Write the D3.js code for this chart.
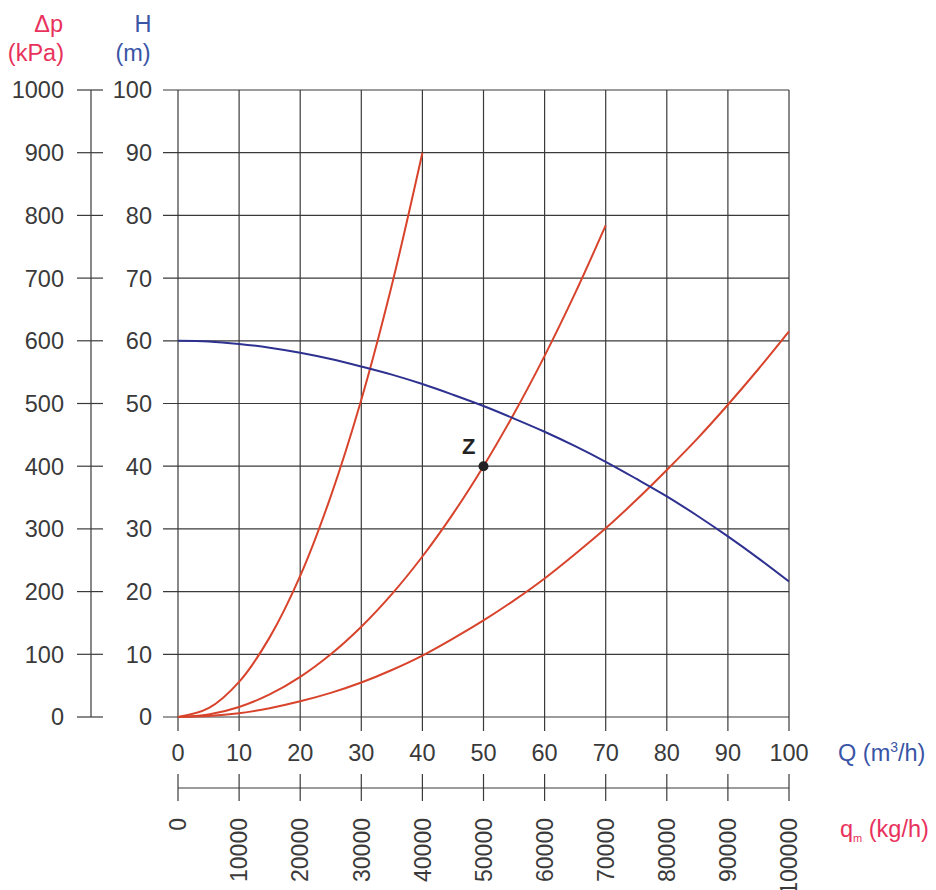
<!DOCTYPE html>
<html>
<head>
<meta charset="utf-8">
<script src="https://cdn.jsdelivr.net/npm/d3@7"></script>
<style>
  html, body { margin: 0; padding: 0; background: #fff; }
  svg { display: block; }
  text { font-family: "Liberation Sans", Arial, sans-serif; }
</style>
</head>
<body>
<svg id="chart" width="936" height="890"></svg>
<script>
// Flow rate Q (m3/h) sample positions
const flowQ = [0, 5, 10, 15, 20, 25, 30, 35, 40, 45, 50, 55, 60, 65, 70, 75, 80, 85, 90, 95, 100];

// Pump curve H (m)
const pumpH = [60, 59.9, 59.5, 58.9, 58.1, 57.1, 55.9, 54.6, 53.1, 51.4, 49.6, 47.6, 45.5, 43.2, 40.7, 38.0, 35.2, 32.1, 28.8, 25.3, 21.6];

// System curves H (m)
const system1H = [0, 1.4, 5.6, 12.7, 22.5, 35.2, 50.6, 68.9, 90];
const system2H = [0, 0.4, 1.6, 3.6, 6.4, 10.0, 14.4, 19.6, 25.6, 32.4, 40.0, 48.4, 57.6, 67.6, 78.4];
const system3H = [0, 0.15, 0.6, 1.4, 2.5, 3.85, 5.5, 7.5, 9.8, 12.5, 15.4, 18.6, 22.1, 26.0, 30.1, 34.6, 39.4, 44.4, 49.8, 55.5, 61.5];

// Operating point
const pointZ = { q: 50, h: 40, label: "Z" };

// Axis ticks
const hTicks = [0, 10, 20, 30, 40, 50, 60, 70, 80, 90, 100];
const dpTicks = [0, 100, 200, 300, 400, 500, 600, 700, 800, 900, 1000];
const qTicks = [0, 10, 20, 30, 40, 50, 60, 70, 80, 90, 100];
const qmTicks = [0, 10000, 20000, 30000, 40000, 50000, 60000, 70000, 80000, 90000, 100000];

const gridColor = "#3a3a3a";
const textColor = "#3a3a3a";
const redColor = "#d8432c";
const blueColor = "#2e3190";
const pinkColor = "#e8325c";
const titleBlue = "#3a55a6";

const svg = d3.select("#chart");

const x = d3.scaleLinear().domain([0, 100]).range([178, 789]);
const y = d3.scaleLinear().domain([0, 100]).range([717, 90]);
const yDp = d3.scaleLinear().domain([0, 1000]).range([717, 90]);
const xQm = d3.scaleLinear().domain([0, 100000]).range([178, 789]);

const fontSize = 23.5;

// Grid: horizontal lines (extended left as ticks)
svg.append("g").selectAll("line").data(hTicks).join("line")
  .attr("x1", x(0) - 15).attr("x2", x(100))
  .attr("y1", d => y(d)).attr("y2", d => y(d))
  .attr("stroke", gridColor).attr("stroke-width", 1.2);

// Grid: vertical lines (extended down as ticks)
svg.append("g").selectAll("line").data(qTicks).join("line")
  .attr("x1", d => x(d)).attr("x2", d => x(d))
  .attr("y1", y(100)).attr("y2", y(0) + 14)
  .attr("stroke", gridColor).attr("stroke-width", 1.2);

// H tick labels
svg.append("g").selectAll("text").data(hTicks).join("text")
  .attr("x", 152).attr("y", d => y(d))
  .attr("dy", "0.36em").attr("text-anchor", "end")
  .attr("font-size", fontSize).attr("fill", textColor)
  .text(d => d);

// Δp axis
const dpAxisX = 91;
svg.append("line")
  .attr("x1", dpAxisX).attr("x2", dpAxisX)
  .attr("y1", yDp(1000)).attr("y2", yDp(0))
  .attr("stroke", gridColor).attr("stroke-width", 1.2);
svg.append("g").selectAll("line").data(dpTicks).join("line")
  .attr("x1", dpAxisX - 14).attr("x2", dpAxisX + 12)
  .attr("y1", d => yDp(d)).attr("y2", d => yDp(d))
  .attr("stroke", gridColor).attr("stroke-width", 1.2);
svg.append("g").selectAll("text").data(dpTicks).join("text")
  .attr("x", 64).attr("y", d => yDp(d))
  .attr("dy", "0.36em").attr("text-anchor", "end")
  .attr("font-size", fontSize).attr("fill", textColor)
  .text(d => d);

// Axis titles (left)
svg.append("text").attr("x", 63).attr("y", 32).attr("text-anchor", "end")
  .attr("font-size", fontSize).attr("fill", pinkColor).text("Δp");
svg.append("text").attr("x", 64).attr("y", 61).attr("text-anchor", "end")
  .attr("font-size", fontSize).attr("fill", pinkColor).text("(kPa)");
svg.append("text").attr("x", 143).attr("y", 32).attr("text-anchor", "middle")
  .attr("font-size", fontSize).attr("fill", titleBlue).text("H");
svg.append("text").attr("x", 133).attr("y", 61).attr("text-anchor", "middle")
  .attr("font-size", fontSize).attr("fill", titleBlue).text("(m)");

// Q tick labels
svg.append("g").selectAll("text").data(qTicks).join("text")
  .attr("x", d => x(d)).attr("y", 761)
  .attr("text-anchor", "middle")
  .attr("font-size", fontSize).attr("fill", textColor)
  .text(d => d);

// Q title
const qTitle = svg.append("text").attr("x", 838).attr("y", 761)
  .attr("font-size", fontSize).attr("fill", titleBlue);
qTitle.append("tspan").text("Q (m");
qTitle.append("tspan").attr("font-size", 14).attr("dy", -9).text("3");
qTitle.append("tspan").attr("dy", 9).text("/h)");

// q_m axis
const qmAxisY = 788;
svg.append("line")
  .attr("x1", xQm(0)).attr("x2", xQm(100000))
  .attr("y1", qmAxisY).attr("y2", qmAxisY)
  .attr("stroke", gridColor).attr("stroke-width", 1.2);
svg.append("g").selectAll("line").data(qmTicks).join("line")
  .attr("x1", d => xQm(d)).attr("x2", d => xQm(d))
  .attr("y1", qmAxisY - 14).attr("y2", qmAxisY + 13)
  .attr("stroke", gridColor).attr("stroke-width", 1.2);
svg.append("g").selectAll("text").data(qmTicks).join("text")
  .attr("transform", d => `translate(${xQm(d)},818) rotate(-90)`)
  .attr("dy", "0.36em").attr("text-anchor", "end")
  .attr("font-size", 23).attr("fill", textColor)
  .text(d => d);

// q_m title
const qmTitle = svg.append("text").attr("x", 840).attr("y", 837)
  .attr("font-size", fontSize).attr("fill", pinkColor);
qmTitle.append("tspan").text("q");
qmTitle.append("tspan").attr("font-size", 11).attr("dy", 5).text("m");
qmTitle.append("tspan").attr("dy", -5).text(" (kg/h)");

// Curves
const line = d3.line()
  .x(d => x(d[0])).y(d => y(d[1]))
  .curve(d3.curveCatmullRom.alpha(0.5));

const toPts = (vals) => vals.map((v, i) => [flowQ[i], v]);

[system1H, system2H, system3H].forEach(vals => {
  svg.append("path").datum(toPts(vals))
    .attr("d", line).attr("fill", "none")
    .attr("stroke", redColor).attr("stroke-width", 2);
});

svg.append("path").datum(toPts(pumpH))
  .attr("d", line).attr("fill", "none")
  .attr("stroke", blueColor).attr("stroke-width", 2);

// Operating point Z
svg.append("circle")
  .attr("cx", x(pointZ.q)).attr("cy", y(pointZ.h)).attr("r", 5)
  .attr("fill", "#222");
svg.append("text")
  .attr("x", x(pointZ.q) - 8).attr("y", y(pointZ.h) - 12)
  .attr("text-anchor", "end")
  .attr("font-size", 22).attr("font-weight", "bold").attr("fill", "#222")
  .text(pointZ.label);
</script>
</body>
</html>
